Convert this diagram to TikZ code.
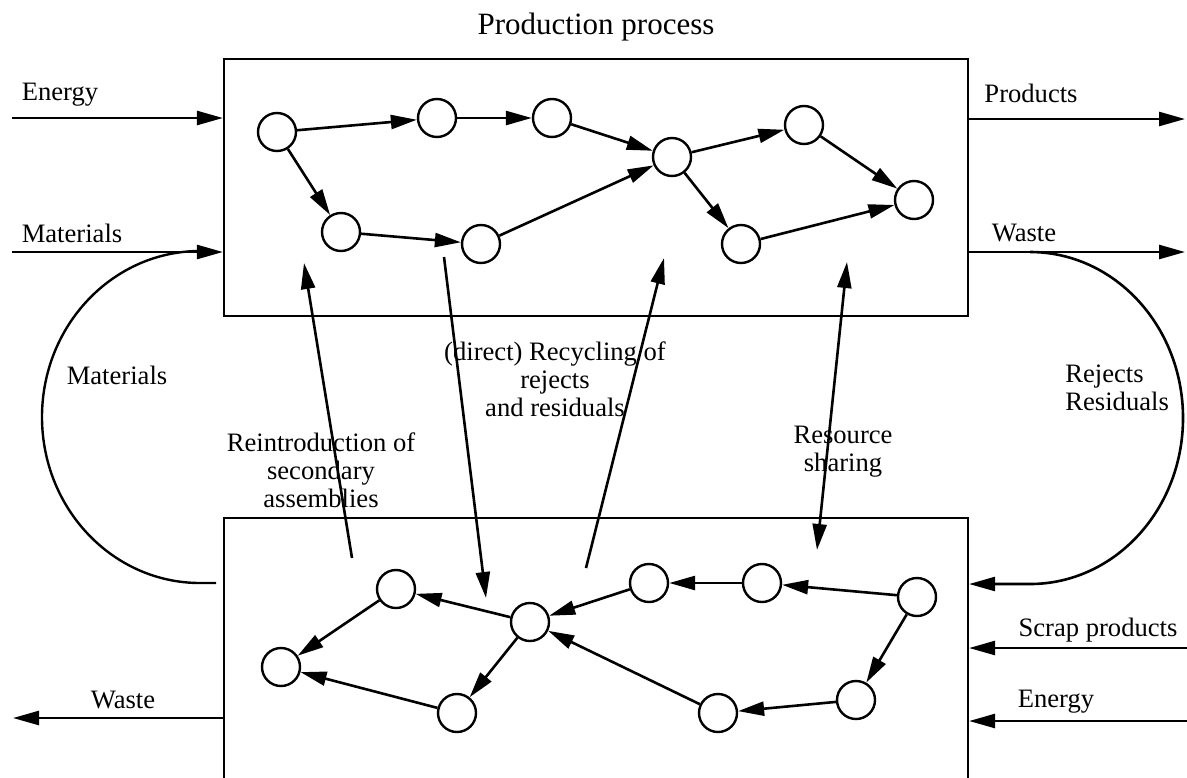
\documentclass[tikz,border=0pt]{standalone}
\usepackage{fontspec}
\setmainfont{Liberation Serif}
\usetikzlibrary{arrows.meta}

\begin{document}
\begin{tikzpicture}[
x=0.5pt, y=-0.5pt,
>={Triangle[length=13pt,width=7pt]},
every node/.style={font=\fontsize{13.3}{14}\selectfont},
procbox/.style={
draw,
line width=1.1pt,
minimum width=372pt,
inner sep=0pt
},
unit/.style={
draw,
circle,
line width=1.2pt,
minimum size=19pt,
inner sep=0pt
},
lbl/.style={align=center, inner sep=0pt},
arrow/.style={->,line width=1.3pt},
line/.style={line width=1.2pt}
]
\useasboundingbox (0,0) rectangle (1187,777);
\clip (0,0) rectangle (1187,777);

% Boxes
\node[procbox, minimum height=128.5pt] (prod) at (596,187.5) {};
\node[procbox, minimum height=141pt] (rec) at (596,659) {};

\node[lbl, font=\fontsize{15.5}{17}\selectfont] (title) at (596,27) {Production process};

% Production process units
\node[unit] (a) at (277,132) {};
\node[unit] (b) at (437,118) {};
\node[unit] (c) at (552,118) {};
\node[unit] (d) at (341,232) {};
\node[unit] (e) at (481,244) {};
\node[unit] (f) at (672,157) {};
\node[unit] (g) at (804,125) {};
\node[unit] (h) at (741,244) {};
\node[unit] (i) at (914,200) {};

% Recycling units
\node[unit] (p) at (396,589) {};
\node[unit] (q) at (530,622) {};
\node[unit] (r) at (281,667) {};
\node[unit] (s) at (457,713) {};
\node[unit] (t) at (649,583) {};
\node[unit] (u) at (762,583) {};
\node[unit] (v) at (917,597) {};
\node[unit] (w) at (856,700) {};
\node[unit] (xx) at (718,713) {};

% Labels
\node[lbl] (energyin) at (60,95) {Energy};
\node[lbl] (matin) at (72,233) {Materials};
\node[lbl] (products) at (1031,93) {Products};
\node[lbl] (wasteout) at (1024,233) {Waste};
\node[lbl] (matloop) at (117,375) {Materials};
\node[lbl] (recycle) at (555,379) {(direct) Recycling of\\rejects\\and residuals};
\node[lbl] (reintro) at (321,470) {Reintroduction of\\secondary\\assemblies};
\node[lbl] (share) at (843,452) {Resource\\sharing};
\node[lbl, align=left, anchor=west] (rejects) at (1065,388) {Rejects\\Residuals};
\node[lbl] (wastebot) at (123,700) {Waste};
\node[lbl] (scrap) at (1098,630) {Scrap products};
\node[lbl] (energybot) at (1056,702) {Energy};

% Free ends
\coordinate (ein) at (12,118);
\coordinate (min) at (12,252);
\coordinate (pout) at (1185,119);
\coordinate (wout) at (1185,252);
\coordinate (wbot) at (13,718);
\coordinate (sin) at (1187,648);
\coordinate (ebin) at (1187,721);
\coordinate (lbot) at (216,583);
\coordinate (wtap) at (1030,252);
\coordinate (rbot) at (1030,584);
\coordinate (re1) at (352,558);
\coordinate (re2) at (304,263);
\coordinate (rc1) at (444,257);
\coordinate (rc2) at (486,598);
\coordinate (ru1) at (586,568);
\coordinate (ru2) at (664,258);
\coordinate (sh1) at (847,262);
\coordinate (sh2) at (817,550);

% Inputs and outputs
\draw[arrow] (ein)--(ein -| prod.west);
\draw[arrow] (min)--(min -| prod.west);
\draw[arrow] (pout -| prod.east)--(pout);
\draw[arrow] (wout -| prod.east)--(wout);
\draw[arrow] (wbot -| rec.west)--(wbot);
\draw[arrow] (sin)--(sin -| rec.east);
\draw[arrow] (ebin)--(ebin -| rec.east);

% Loops
\draw[line] (lbot)--++(-16,0) arc[start angle=90,end angle=270,x radius=158,y radius=166];
\draw[arrow] (wtap) arc[start angle=-90,end angle=90,x radius=153,y radius=166]--(rbot -| rec.east);

% Exchanges between the two boxes
\draw[arrow] (re1)--(re2);
\draw[arrow] (rc1)--(rc2);
\draw[arrow] (ru1)--(ru2);
\draw[arrow, <->] (sh1)--(sh2);

% Production flows
\draw[arrow] (a)--(b);
\draw[arrow] (b)--(c);
\draw[arrow] (c)--(f);
\draw[arrow] (a)--(d);
\draw[arrow] (d)--(e);
\draw[arrow] (e)--(f);
\draw[arrow] (f)--(g);
\draw[arrow] (f)--(h);
\draw[arrow] (g)--(i);
\draw[arrow] (h)--(i);

% Recycling flows
\draw[arrow] (v)--(u);
\draw[arrow] (u)--(t);
\draw[arrow] (t)--(q);
\draw[arrow] (v)--(w);
\draw[arrow] (w)--(xx);
\draw[arrow] (xx)--(q);
\draw[arrow] (q)--(p);
\draw[arrow] (q)--(s);
\draw[arrow] (p)--(r);
\draw[arrow] (s)--(r);

\end{tikzpicture}
\end{document}
